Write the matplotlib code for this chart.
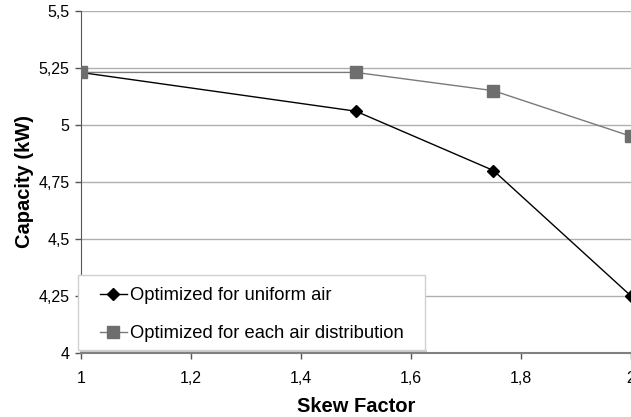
import matplotlib
matplotlib.use("Agg")
import matplotlib.pyplot as plt
from matplotlib.ticker import FuncFormatter
from matplotlib.patches import Rectangle

plt.rcParams['font.family'] = ['Liberation Sans', 'DejaVu Sans']

skew = [1.0, 1.5, 1.75, 2.0]
uniform = [5.23, 5.06, 4.80, 4.25]
each = [5.23, 5.23, 5.15, 4.95]
xticks = [1.0, 1.2, 1.4, 1.6, 1.8, 2.0]
yticks = [4.0, 4.25, 4.5, 4.75, 5.0, 5.25, 5.5]

W, H = 631, 417
fig = plt.figure(figsize=(W / 100, H / 100), dpi=100)
ax = fig.add_axes([0.128, 0.1535, 0.872, 0.8205])

ax.plot(skew, uniform, color='black', lw=1.0, marker='D', ms=6.5, mfc='black', mec='black',
        label='Optimized for uniform air', zorder=3)
ax.plot(skew, each, color='#7a7a7a', lw=1.0, marker='s', ms=8, mfc='#6e6e6e', mec='#6e6e6e',
        label='Optimized for each air distribution', zorder=3)

ax.set_xlim(1, 2)
ax.set_ylim(4, 5.5)
ax.set_xticks(xticks)
ax.set_yticks(yticks)

def fmt(v, pos):
    s = ('%.2f' % v).rstrip('0').rstrip('.')
    return s.replace('.', ',')

ax.xaxis.set_major_formatter(FuncFormatter(fmt))
ax.yaxis.set_major_formatter(FuncFormatter(fmt))
ax.tick_params(axis='both', labelsize=11.5, direction='out', length=4, color='#555555', width=1)
ax.tick_params(axis='x', pad=9)
ax.tick_params(axis='y', pad=4)

ax.yaxis.grid(True, color='#b0b0b0', lw=1)
ax.set_axisbelow(True)
for s in ['top', 'right']:
    ax.spines[s].set_visible(False)
ax.spines['left'].set_color('#555555')
ax.spines['bottom'].set_color('#808080')
ax.spines['bottom'].set_linewidth(1.5)

ax.set_xlabel('Skew Factor', fontsize=14.5, fontweight='bold', labelpad=8)
ax.set_ylabel('Capacity (kW)', fontsize=14.5, fontweight='bold', labelpad=3)

# legend frame
frame = Rectangle((78 / W, 1 - 350 / H), 347 / W, 75 / H, transform=fig.transFigure,
                  facecolor='white', edgecolor='#d0d0d0', lw=1.0, zorder=4)
fig.patches.append(frame)
shadow = Rectangle((80 / W, 1 - 352 / H), 347 / W, 2 / H, transform=fig.transFigure,
                   facecolor='#c8c8c8', edgecolor='none', zorder=3.9)
fig.patches.append(shadow)

leg = fig.legend(loc='upper left', bbox_to_anchor=(100 / W, 1 - 287 / H), borderaxespad=0,
                 fontsize=13.2, frameon=False, handlelength=1.45, handletextpad=0.2,
                 labelspacing=1.15, borderpad=0)
leg.set_zorder(5)

fig.savefig('out.png', dpi=100)
